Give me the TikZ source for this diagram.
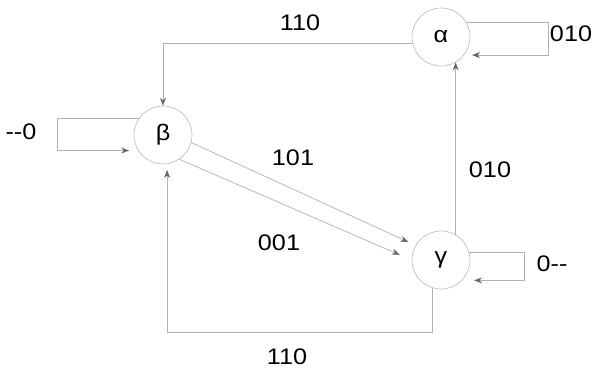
\documentclass[tikz,border=0pt]{standalone}
\usepackage{fontspec}
\setmainfont[FakeStretch=1.12]{Liberation Sans}
\usetikzlibrary{arrows.meta}
\colorlet{tipcol}{gray!80!black}
\begin{document}
\begin{tikzpicture}[x=1pt,y=-1pt,
  state/.style={circle,draw=gray!55,line width=0.6pt,minimum size=58pt,inner sep=0pt,font=\fontsize{22.5}{24}\selectfont},
  lbl/.style={font=\fontsize{22.5}{24}\selectfont,inner sep=0pt},
  arr/.style={draw=gray!60,line width=0.7pt,-{Stealth[length=8pt,width=6pt,color=tipcol]}}]
\useasboundingbox[fill=white] (0,0) rectangle (593,370);
\node[state] (alpha) at (441,37) {α};
\node[state] (beta) at (163,135) {β};
\node[state] (gamma) at (441,260) {γ};
% alpha -> beta
\draw[arr] (alpha.192) -| (beta.north);
\node[lbl] (l1) at (300,23) {110};
% alpha self loop
\draw[arr,shorten >=8pt] (alpha.29) -- ++(82,0) |- (alpha.-38);
\node[lbl] (l2) at (571,34) {010};
% beta self loop
\draw[arr,shorten >=9pt] (beta.146) -- ++(-81,0) |- (beta.212);
\node[lbl] (l3) at (21,132) {-{}-0};
% beta -> gamma
\draw[arr,shorten >=8pt] (beta.-15) -- (gamma.150);
\node[lbl] (l4) at (293,158) {101};
\draw[arr,shorten >=13pt] (beta.-56) -- (gamma.180);
\node[lbl] (l5) at (279,243) {001};
% gamma -> alpha
\draw[arr] (gamma.60) -- (alpha.-60);
\node[lbl] (l6) at (490,170) {010};
% gamma self loop
\draw[arr,shorten >=12pt] (gamma.15) -- ++(55,0) |- (gamma.-44);
\node[lbl] (l7) at (552,264) {0-{}-};
% gamma -> beta
\draw[arr,shorten >=6pt] (gamma.-107) -- (gamma.-107 |- 0,332) -| (beta.-82);
\node[lbl] (l8) at (287,357) {110};
\end{tikzpicture}
\end{document}
